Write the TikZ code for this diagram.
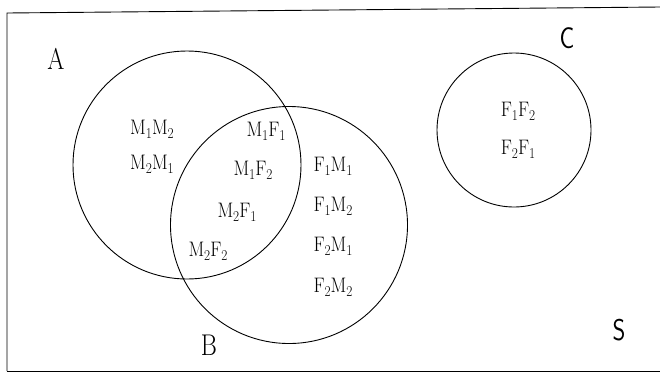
\documentclass[tikz,border=0pt]{standalone}
\usepackage{fontspec}
\usepackage{graphicx}
\begin{document}
\begin{tikzpicture}[x=1pt,y=-1pt,
  setline/.style={line width=0.9pt},
  setcircle/.style={circle,draw,line width=0.9pt,inner sep=0pt},
  elem/.style={anchor=base,inner sep=0pt,font=\fontsize{21}{21}\selectfont},
  setlabel/.style={anchor=base,inner sep=0pt,font=\fontsize{30}{30}\selectfont}]
\newcommand{\sbs}[1]{\raisebox{-4.5pt}{\fontsize{15}{15}\selectfont #1}}
\newcommand{\elt}[4]{\scalebox{0.88}[1]{#1\sbs{#2}#3\sbs{#4}}}
\newcommand{\lbl}[1]{\scalebox{0.82}[1]{#1}}
\useasboundingbox (0,0) rectangle (660,373);
% frame
\coordinate (fbl) at (7,371);
\coordinate (ftl) at (7,13);
\coordinate (ftr) at (660,7);
\coordinate (fbr) at (660,371);
\draw[setline] (fbl) -- (ftl) -- (ftr);
\draw[setline] (fbl) -- (fbr);
% circles
\node[setcircle,minimum size=228pt] (A) at (187,165) {};
\node[setcircle,minimum size=237pt] (B) at (289,225) {};
\node[setcircle,minimum size=154pt] (C) at (514,130) {};
% labels
\node[setlabel] (la) at (56,69) {\lbl{A}};
\node[setlabel] (lb) at (209,355) {\lbl{B}};
\node[setlabel] (lc) at (567,48) {\lbl{\sffamily C}};
\node[setlabel] (ls) at (619,340) {\lbl{\sffamily S}};
% A only
\node[elem] (m1m2) at (152,134) {\elt{M}{1}{M}{2}};
\node[elem] (m2m1) at (152,169) {\elt{M}{2}{M}{1}};
% A and B
\node[elem] (m1f1) at (266,136) {\elt{M}{1}{F}{1}};
\node[elem] (m1f2) at (253,175) {\elt{M}{1}{F}{2}};
\node[elem] (m2f1) at (237,217) {\elt{M}{2}{F}{1}};
\node[elem] (m2f2) at (208,256) {\elt{M}{2}{F}{2}};
% B only
\node[elem] (f1m1) at (333,171) {\elt{F}{1}{M}{1}};
\node[elem] (f1m2) at (333,211) {\elt{F}{1}{M}{2}};
\node[elem] (f2m1) at (333,251) {\elt{F}{2}{M}{1}};
\node[elem] (f2m2) at (333,292) {\elt{F}{2}{M}{2}};
% C
\node[elem] (f1f2) at (518,116) {\elt{F}{1}{F}{2}};
\node[elem] (f2f1) at (518,154) {\elt{F}{2}{F}{1}};
\end{tikzpicture}
\end{document}
